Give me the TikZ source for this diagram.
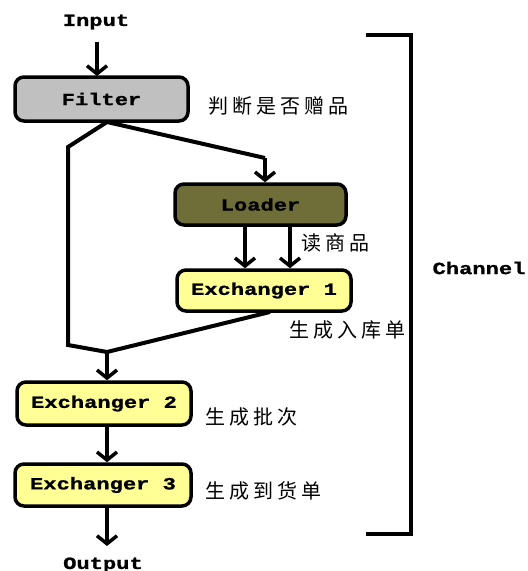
\documentclass[tikz,border=0pt]{standalone}
\usepackage{fontspec}
\usetikzlibrary{arrows.meta}
\newfontfamily\monob[FakeStretch=1.3,FakeBold=1.2]{Liberation Mono Bold}
\newfontfamily\cjk[LetterSpace=20]{Noto Sans CJK SC}
\definecolor{filtergray}{RGB}{192,192,192}
\definecolor{olive}{RGB}{112,110,56}
\definecolor{paleyellow}{RGB}{255,255,150}
\tikzset{
  box/.style={draw=black, line width=3.5pt, rounded corners=9pt, inner sep=0pt,
    font=\monob\fontsize{17}{17}\selectfont},
  plain/.style={font=\monob\fontsize{17}{17}\selectfont, inner sep=0pt},
  lab/.style={font=\cjk\fontsize{20}{20}\selectfont, inner sep=0pt, anchor=west},
  conn/.style={line width=4pt},
  arr/.style={line width=4pt, -{Straight Barb[length=8pt,width=20pt,line width=3.5pt]}},
}
\begin{document}
\begin{tikzpicture}[x=1pt,y=-1pt]
\useasboundingbox (0,0) rectangle (528,571);
% nodes
\node[plain] (input) at (96,22) {Input};
\node[box, fill=filtergray, minimum width=173pt, minimum height=44pt] (filter) at (101.5,99) {Filter};
\node[box, fill=olive, minimum width=171pt, minimum height=41pt] (loader) at (260.5,204.5) {Loader};
\node[box, fill=paleyellow, minimum width=174pt, minimum height=41pt] (ex1) at (264,290.5) {Exchanger 1};
\node[box, fill=paleyellow, minimum width=174pt, minimum height=43pt] (ex2) at (104,403.5) {Exchanger 2};
\node[box, fill=paleyellow, minimum width=176pt, minimum height=42pt] (ex3) at (103,485) {Exchanger 3};
\node[plain] (output) at (103,565) {Output};
\node[plain] (channel) at (479,268) {Channel};
% labels
\node[lab] (l1) at (208,106) {判断是否赠品};
\node[lab] (l2) at (301,243) {读商品};
\node[lab] (l3) at (289,330) {生成入库单};
\node[lab] (l4) at (205,417) {生成批次};
\node[lab] (l5) at (205,491) {生成到货单};
% coordinates
\coordinate (fb) at (107,122);
\coordinate (lb) at (68,147);
\coordinate (lc) at (68,345);
\coordinate (j) at (107,352);
\coordinate (rb) at (265,158);
\coordinate (e1b) at (270,312);
\coordinate (bt1) at (366,35);
\coordinate (bt2) at (411,35);
\coordinate (bb1) at (366,534);
\coordinate (bb2) at (411,534);
% connectors
\draw[arr] (97,42) -- (97,76);
\draw[conn, line join=miter] (fb) -- (lb) -- (lc) -- (j);
\draw[conn, line join=miter] (fb) -- (rb);
\draw[arr] (rb) -- (loader.north -| rb);
\draw[conn] (e1b) -- (j);
\draw[arr] (j) -- (ex2.north -| j);
\draw[arr] (loader.south -| 245,0) -- (ex1.north -| 245,0);
\draw[arr] (loader.south -| 290,0) -- (ex1.north -| 290,0);
\draw[arr] (ex2.south -| 107,0) -- (ex3.north -| 107,0);
\draw[arr] (ex3.south -| 107,0) -- (107,546);
% bracket
\draw[line width=4pt, line join=miter] (bt1) -- (bt2) -- (bb2) -- (bb1);
\end{tikzpicture}
\end{document}
